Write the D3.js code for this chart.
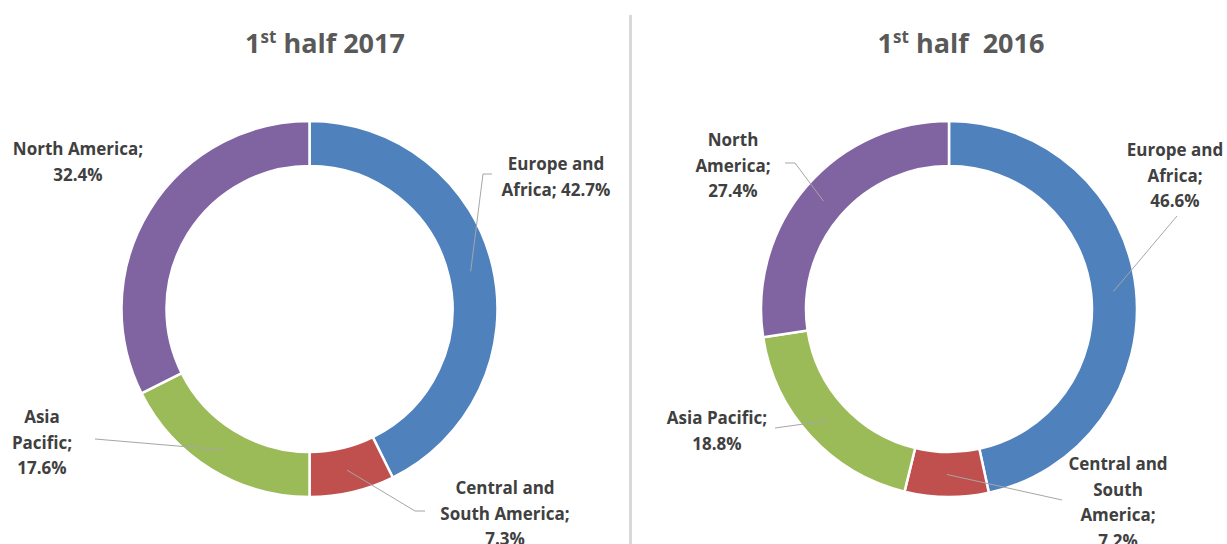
<!DOCTYPE html>
<html><head><meta charset="utf-8">
<script src="https://cdn.jsdelivr.net/npm/d3@7"></script>
<style>body{margin:0;background:#fff}svg{display:block}</style>
</head><body>
<svg id="c" width="1227" height="544"></svg>
<script>
// ---- data ----
const regions = ["Europe and Africa", "Central and South America", "Asia Pacific", "North America"];
const values2017 = [42.7, 7.3, 17.6, 32.4];
const values2016 = [46.6, 7.2, 18.8, 27.4];
const titles = [{ord:"1", sup:"st", rest:" half 2017"}, {ord:"1", sup:"st", rest:" half\u00a0 2016"}];
const labelLines2017 = [["Europe and", "Africa; 42.7%"], ["Central and", "South America;", "7.3%"], ["Asia", "Pacific;", "17.6%"], ["North America;", "32.4%"]];
const labelLines2016 = [["Europe and", "Africa;", "46.6%"], ["Central and", "South", "America;", "7.2%"], ["Asia Pacific;", "18.8%"], ["North", "America;", "27.4%"]];

// ---- layout ----
const colors = ["#4f81bd", "#c0504d", "#9bbb59", "#8064a2"];
const charts = [
  {cx: 309.5, cy: 309, titleX: 325, values: values2017, lines: labelLines2017,
   labels: [{x:556, y:170, lead:[[492,174],[483,174]]},
            {x:505, y:494, lead:[[425,511],[415,511]]},
            {x:42, y:423, lead:[[95,439]]},
            {x:78, y:155, lead:null}]},
  {cx: 949, cy: 309, titleX: 961, values: values2016, lines: labelLines2016,
   labels: [{x:1175, y:156, lead:[[1177,216]]},
            {x:1118, y:470, lead:[[1062,500]]},
            {x:717, y:424, lead:[[775,428]]},
            {x:733, y:146, lead:[[785,163],[795,163]]}]}
];
const rOuter = 188, rInner = 143;
const font = "'Open Sans', Lato, sans-serif";

const svg = d3.select("#c");
svg.append("rect").attr("x", 629).attr("y", 15).attr("width", 3).attr("height", 529).attr("fill", "#d9d9d9");

const pie = d3.pie().sort(null).value(d => d);
const arc = d3.arc().innerRadius(rInner).outerRadius(rOuter);
const line = d3.line();

charts.forEach((ch, ci) => {
  const t = titles[ci];
  const title = svg.append("text").attr("x", ch.titleX).attr("y", 53).attr("text-anchor", "middle")
    .attr("font-family", font).attr("font-weight", "bold").attr("font-size", 27).attr("fill", "#595959");
  title.append("tspan").text(t.ord);
  title.append("tspan").attr("font-size", 17).attr("dy", -10).text(t.sup);
  title.append("tspan").attr("dy", 10).text(t.rest);

  const g = svg.append("g").attr("transform", `translate(${ch.cx},${ch.cy})`);
  const arcs = pie(ch.values);
  g.selectAll("path.slice").data(arcs).join("path").attr("class", "slice")
    .attr("d", arc).attr("fill", (d, i) => colors[i]).attr("stroke", "#fff").attr("stroke-width", 2.5);

  arcs.forEach((a, i) => {
    const L = ch.labels[i];
    if (L.lead) {
      const c = arc.centroid(a);
      const pts = L.lead.map(p => [p[0] - ch.cx, p[1] - ch.cy]).concat([c]);
      g.append("path").attr("d", line(pts)).attr("fill", "none").attr("stroke", "#a6a6a6").attr("stroke-width", 1);
    }
    const tx = svg.append("text").attr("text-anchor", "middle")
      .attr("font-family", font).attr("font-weight", "bold").attr("font-size", 17).attr("fill", "#404040");
    ch.lines[i].forEach((s, k) => tx.append("tspan").attr("x", L.x).attr("y", L.y + k * 25.5).text(s));
  });
});
</script>
</body></html>
